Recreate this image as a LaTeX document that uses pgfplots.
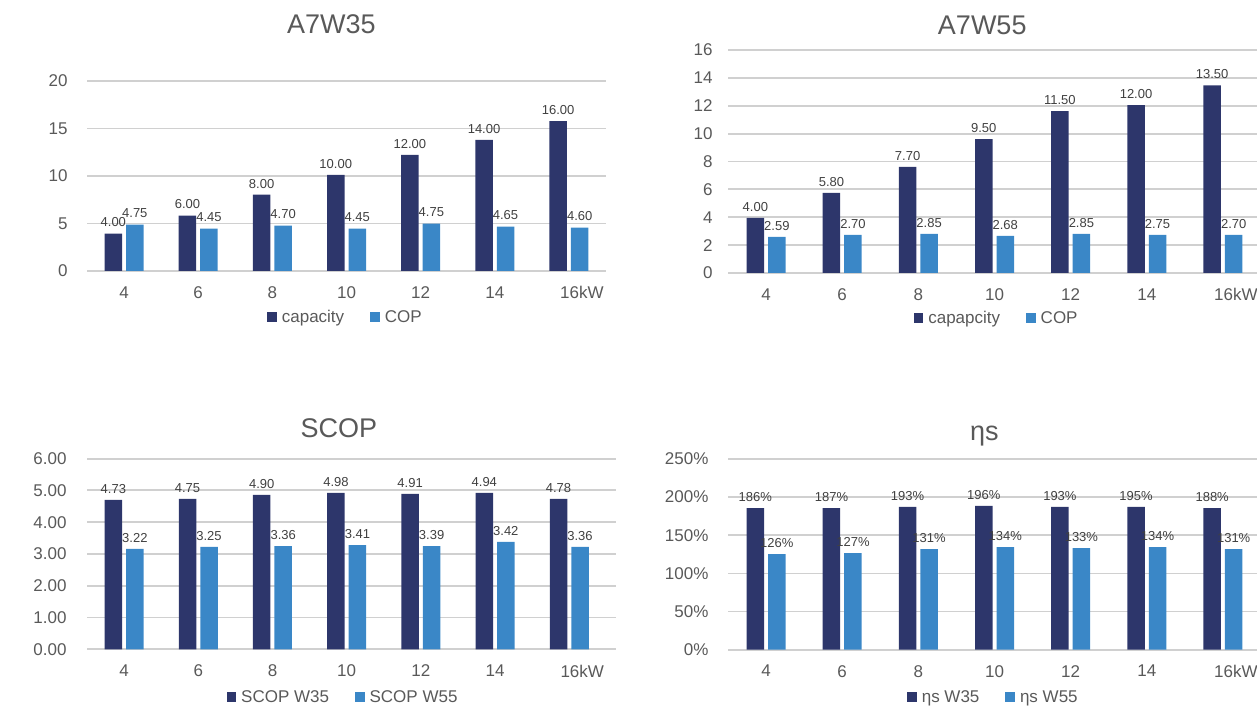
\documentclass[border=0pt]{standalone}
\usepackage{fontspec}
\setmainfont{Liberation Sans}
\usepackage{pgfplots}
\pgfplotsset{compat=1.18}
\usepackage{pgfplotstable}
\definecolor{navy}{HTML}{2D366B}
\definecolor{lblue}{HTML}{3A87C7}
\definecolor{gridc}{HTML}{D0D0D0}
\definecolor{txt}{HTML}{595959}
\definecolor{labc}{HTML}{404040}

% x = category index, y1/y2 = bar heights, l1/l2 = printed labels
\pgfplotstableread{
x y1 l1 y2 l2
0 3.94 4.00 4.89 4.75
1 5.83 6.00 4.47 4.45
2 8.03 8.00 4.78 4.70
3 10.12 10.00 4.47 4.45
4 12.22 12.00 4.99 4.75
5 13.79 14.00 4.68 4.65
6 15.78 16.00 4.57 4.60
}\tA
\pgfplotstableread{
x y1 l1 y2 l2
0 3.96 4.00 2.60 2.59
1 5.75 5.80 2.74 2.70
2 7.61 7.70 2.81 2.85
3 9.61 9.50 2.67 2.68
4 11.61 11.50 2.81 2.85
5 12.04 12.00 2.74 2.75
6 13.47 13.50 2.74 2.70
}\tB
\pgfplotstableread{
x y1 l1 y2 l2
0 4.70 4.73 3.16 3.22
1 4.73 4.75 3.22 3.25
2 4.86 4.90 3.25 3.36
3 4.92 4.98 3.28 3.41
4 4.89 4.91 3.25 3.39
5 4.92 4.94 3.38 3.42
6 4.73 4.78 3.22 3.36
}\tC
\pgfplotstableread{
x y1 l1 y2 l2
0 185.7 186 125.4 126
1 185.7 187 126.7 127
2 187.1 193 132.0 131
3 188.4 196 134.6 134
4 187.1 193 133.3 133
5 187.1 195 134.6 134
6 185.7 188 132.0 131
}\tD

\pgfplotsset{
 /pgf/number format/assume math mode=true,
 sq/.style={legend image code/.code={\fill[##1,draw=none] (0pt,-4.8pt) rectangle (9.6pt,4.8pt);}},
 mychart/.style={
  scale only axis,
  anchor=south west,
  ybar=4pt, bar width=17.5pt,
  xmin=-0.5, ymin=0,
  xtick={0,...,6},
  xticklabels={4,6,8,10,12,14,\hspace*{26pt}16kW},
  axis line style={draw=none},
  major tick length=0pt,
  ymajorgrids, grid style={color=gridc, line width=1.8pt},
  tick label style={font=\fontsize{17}{20}\selectfont, text=txt},
  xticklabel style={yshift=-12pt},
  title style={font=\fontsize{27}{30}\selectfont, text=txt, anchor=center},
  legend columns=2,
  legend style={draw=none, fill=none, font=\fontsize{17}{20}\selectfont, text=txt, anchor=center,
    /tikz/every odd column/.append style={column sep=3pt},
    /tikz/every even column/.append style={column sep=24pt}},
  point meta=explicit,
  every node near coord/.append style={font=\fontsize{13}{15}\selectfont, text=labc, yshift=3pt},
  nodes near coords={\pgfmathprintnumber[fixed,fixed zerofill,precision=2]{\pgfplotspointmeta}},
 },
}

\begin{document}
\begin{tikzpicture}
\useasboundingbox (0,0) rectangle (1257pt,710pt);

% A7W35
\begin{axis}[mychart, at={(87pt,439pt)}, width=519pt, height=190pt,
  xmax=6.5, ymax=20, ytick={0,5,...,20},
  yticklabel style={xshift=-16pt},
  title={A7W35}, title style={at={(0.471,1)}, yshift=51pt},
  legend style={at={(0.498,-0.242)}}]
\addplot[fill=navy, draw=none, sq] table[x=x, y=y1, meta=l1] {\tA};
\addplot[fill=lblue, draw=none, sq] table[x=x, y=y2, meta=l2] {\tA};
\legend{capacity, COP}
\end{axis}

% A7W55
\begin{axis}[mychart, at={(728pt,437pt)}, width=533pt, height=223pt,
  xmax=6.5, ymax=16, ytick={0,2,...,16},
  yticklabel style={xshift=-12pt},
  title={A7W55}, title style={at={(0.477,1)}, yshift=19pt},
  legend style={at={(0.504,-0.202)}}]
\addplot[fill=navy, draw=none, sq] table[x=x, y=y1, meta=l1] {\tB};
\addplot[fill=lblue, draw=none, sq] table[x=x, y=y2, meta=l2] {\tB};
\legend{capapcity, COP}
\end{axis}

% SCOP
\begin{axis}[mychart, at={(87pt,60.7pt)}, width=529pt, height=190.7pt,
  xmax=6.63, ymax=6, ytick={0,1,...,6},
  yticklabel style={xshift=-17pt, /pgf/number format/.cd, fixed, fixed zerofill, precision=2},
  title={SCOP}, title style={at={(0.476,1)}, yshift=24.5pt},
  legend style={at={(0.484,-0.25)}}]
\addplot[fill=navy, draw=none, sq] table[x=x, y=y1, meta=l1] {\tC};
\addplot[fill=lblue, draw=none, sq] table[x=x, y=y2, meta=l2] {\tC};
\legend{SCOP W35, SCOP W55}
\end{axis}

% eta s
\begin{axis}[mychart, at={(728pt,60.3pt)}, width=533pt, height=190.7pt,
  xmax=6.5, ymax=250, ytick={0,50,...,250},
  yticklabel style={xshift=-16pt},
  yticklabel={\pgfmathprintnumber{\tick}\%},
  nodes near coords={\pgfmathprintnumber[fixed,precision=0]{\pgfplotspointmeta}\%},
  title={ηs}, title style={at={(0.481,1)}, yshift=17pt},
  legend style={at={(0.498,-0.248)}}]
\addplot[fill=navy, draw=none, sq] table[x=x, y=y1, meta=l1] {\tD};
\addplot[fill=lblue, draw=none, sq] table[x=x, y=y2, meta=l2] {\tD};
\legend{ηs W35, ηs W55}
\end{axis}
\end{tikzpicture}
\end{document}
